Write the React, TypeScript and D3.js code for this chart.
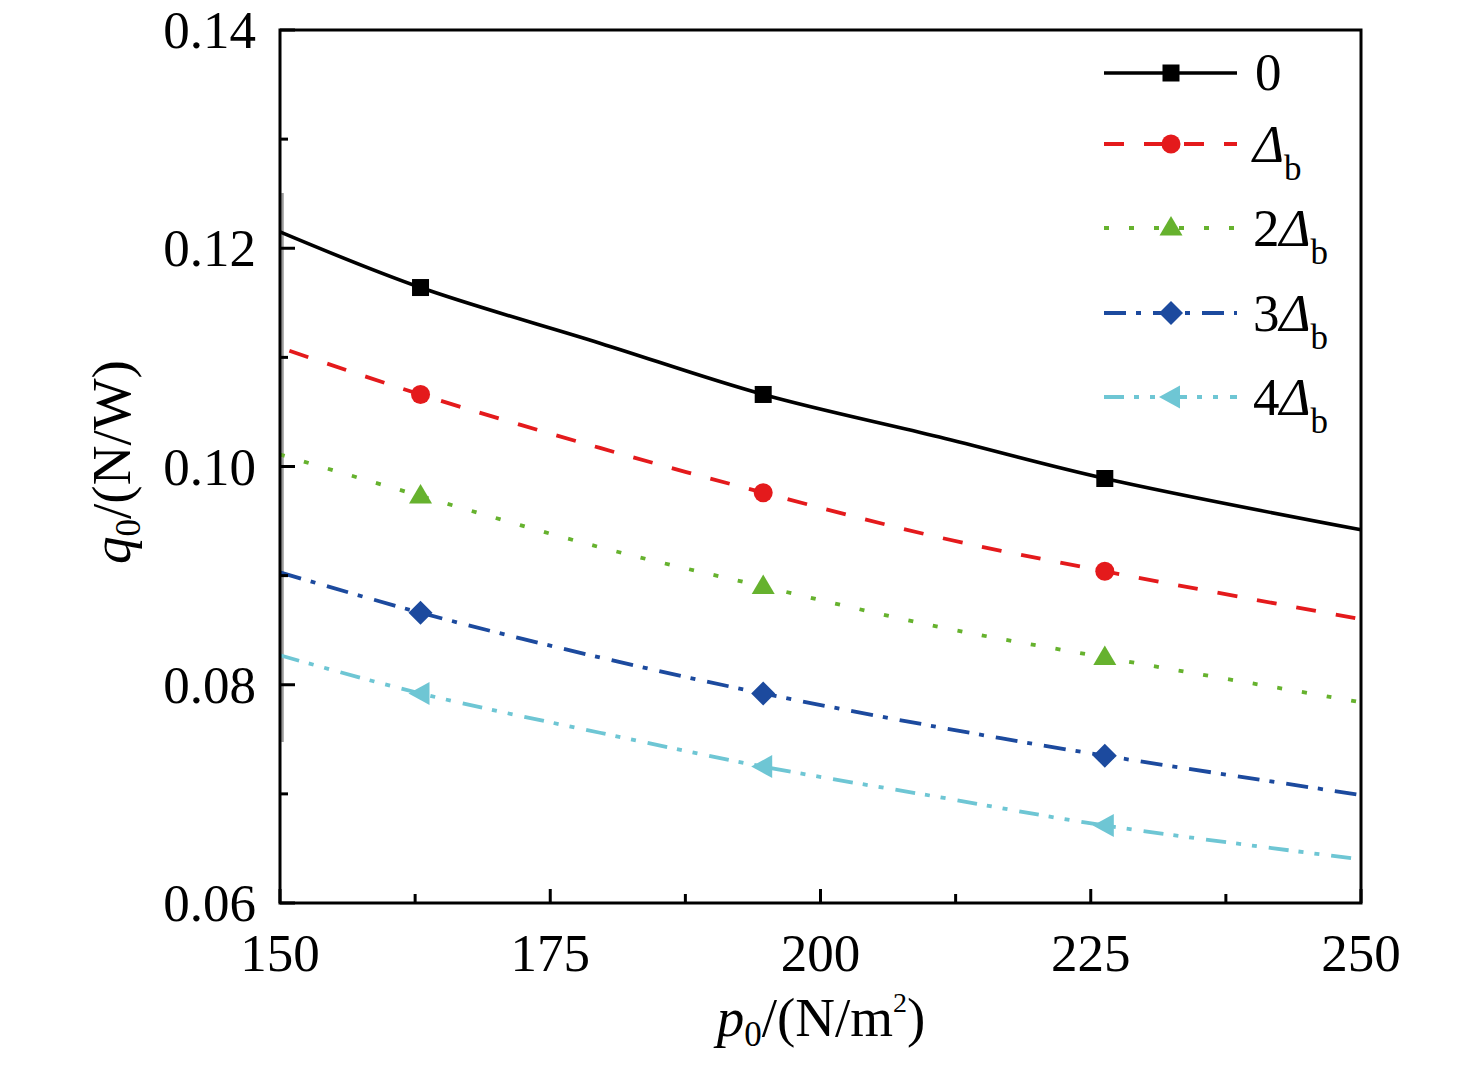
import React from "react";
import * as d3 from "d3";

const pValues = [150, 163, 179.6, 194.7, 211, 226.3, 250];
const series0 = [0.1215, 0.1164, 0.1113, 0.1066, 0.1027, 0.0989, 0.0942];
const series1 = [0.1109, 0.1066, 0.1017, 0.0976, 0.0935, 0.0904, 0.086];
const series2 = [0.1011, 0.0973, 0.0926, 0.089, 0.0853, 0.0825, 0.0784];
const series3 = [0.0903, 0.0866, 0.0825, 0.0792, 0.0761, 0.0735, 0.0699];
const series4 = [0.0827, 0.0792, 0.0756, 0.0725, 0.0697, 0.0671, 0.064];
const markerIdx = [1, 3, 5];
const xTicks = [150, 175, 200, 225, 250];
const xMinor = [162.5, 187.5, 212.5, 237.5];
const yTicks = [0.06, 0.08, 0.1, 0.12, 0.14];
const yMinor = [0.07, 0.09, 0.11, 0.13];
const legendLabels = ["0", "1", "2", "3", "4"];

type S = {
  vals: number[];
  color: string;
  dash: string;
  marker: "square" | "circle" | "triangle" | "diamond" | "left";
  legendY: number;
  label: string;
  width: number;
};

const SERIES: S[] = [
  { vals: series0, color: "#000000", dash: "none", marker: "square", legendY: 73, label: legendLabels[0], width: 3.6 },
  { vals: series1, color: "#e41a1c", dash: "20,20", marker: "circle", legendY: 144, label: legendLabels[1], width: 3.8 },
  { vals: series2, color: "#66b22e", dash: "5,20", marker: "triangle", legendY: 228, label: legendLabels[2], width: 3.8 },
  { vals: series3, color: "#1c4a9e", dash: "22,10,5,12", marker: "diamond", legendY: 313, label: legendLabels[3], width: 3.8 },
  { vals: series4, color: "#6ec6d4", dash: "20,10,5,11,5,12", marker: "left", legendY: 397, label: legendLabels[4], width: 3.8 },
];

const W = 1476;
const H = 1065;
const L = 280, R = 1361, T = 30, B = 903;
const FONT = "'Liberation Serif', 'Times New Roman', serif";

function Marker({ type, x, y, color }: { type: S["marker"]; x: number; y: number; color: string }) {
  if (type === "square") return <rect x={x - 8.5} y={y - 8.5} width={17} height={17} fill={color} />;
  if (type === "circle") return <circle cx={x} cy={y} r={9.5} fill={color} />;
  if (type === "triangle")
    return <polygon points={`${x},${y - 12} ${x + 11.5},${y + 7.5} ${x - 11.5},${y + 7.5}`} fill={color} />;
  if (type === "diamond")
    return <polygon points={`${x},${y - 12} ${x + 12},${y} ${x},${y + 12} ${x - 12},${y}`} fill={color} />;
  return <polygon points={`${x - 12},${y} ${x + 9},${y - 11.5} ${x + 9},${y + 11.5}`} fill={color} />;
}

export default function App() {
  const x = d3.scaleLinear().domain([150, 250]).range([L, R]);
  const y = d3.scaleLinear().domain([0.06, 0.14]).range([B, T]);
  const line = d3
    .line<number>()
    .x((_, i) => x(pValues[i]))
    .y((v) => y(v))
    .curve(d3.curveCatmullRom.alpha(0.5));

  return (
    <div style={{ position: "absolute", left: 0, top: 0 }}>
      <svg width={W} height={H} style={{ display: "block", background: "#fff" }} fontFamily={FONT}>
        <rect width={W} height={H} fill="#fff" />
        {/* artifact grey strip */}
        <line x1={L + 2.5} x2={L + 2.5} y1={193} y2={742} stroke="#9a9a9a" strokeWidth={2.5} />
        {/* series */}
        {SERIES.map((s, si) => (
          <g key={si}>
            <path
              d={line(s.vals) || ""}
              fill="none"
              stroke={s.color}
              strokeWidth={s.width}
              strokeDasharray={s.dash}
              strokeDashoffset={si === 1 ? -10 : 0}
            />
            {markerIdx.map((i) => (
              <Marker key={i} type={s.marker} x={x(pValues[i])} y={y(s.vals[i])} color={s.color} />
            ))}
          </g>
        ))}
        {/* frame */}
        <rect x={L} y={T} width={R - L} height={B - T} fill="none" stroke="#000" strokeWidth={3} />
        {/* y ticks */}
        {yTicks.map((t) => (
          <g key={"y" + t}>
            <line x1={L} x2={L + 15} y1={y(t)} y2={y(t)} stroke="#000" strokeWidth={3} />
            <text x={256} y={y(t) + 18} fontSize={53} textAnchor="end" fill="#000">
              {t.toFixed(2)}
            </text>
          </g>
        ))}
        {yMinor.map((t) => (
          <line key={"ym" + t} x1={L} x2={L + 8} y1={y(t)} y2={y(t)} stroke="#000" strokeWidth={3} />
        ))}
        {/* x ticks */}
        {xTicks.map((t) => (
          <g key={"x" + t}>
            <line x1={x(t)} x2={x(t)} y1={B} y2={B - 14} stroke="#000" strokeWidth={3} />
            <text x={x(t)} y={971} fontSize={53} textAnchor="middle" fill="#000">
              {t}
            </text>
          </g>
        ))}
        {xMinor.map((t) => (
          <line key={"xm" + t} x1={x(t)} x2={x(t)} y1={B} y2={B - 9} stroke="#000" strokeWidth={3} />
        ))}
        {/* axis labels */}
        <text x={821} y={1036} fontSize={55} textAnchor="middle" fill="#000">
          <tspan fontStyle="italic">p</tspan>
          <tspan fontSize={35} dy={10}>0</tspan>
          <tspan dy={-10}>/(N/m</tspan>
          <tspan fontSize={28} dy={-24}>2</tspan>
          <tspan dy={24}>)</tspan>
        </text>
        <text transform="translate(130,462) rotate(-90)" fontSize={55} textAnchor="middle" fill="#000">
          <tspan fontStyle="italic">q</tspan>
          <tspan fontSize={35} dy={10}>0</tspan>
          <tspan dy={-10}>/(N/W)</tspan>
        </text>
        {/* legend */}
        {SERIES.map((s, si) => (
          <g key={"lg" + si}>
            <line
              x1={1104}
              x2={1237}
              y1={s.legendY}
              y2={s.legendY}
              stroke={s.color}
              strokeWidth={s.width}
              strokeDasharray={s.dash}
            />
            <Marker type={s.marker} x={1171} y={s.legendY} color={s.color} />
            {s.label === "0" ? (
              <text x={1255} y={s.legendY + 17} fontSize={53} fill="#000">
                0
              </text>
            ) : (
              <text x={1253} y={s.legendY + 18} fontSize={53} fill="#000">
                {s.label !== "1" && <tspan>{s.label}</tspan>}
                <tspan fontStyle="italic">Δ</tspan>
                <tspan fontSize={35} dy={18}>b</tspan>
              </text>
            )}
          </g>
        ))}
      </svg>
    </div>
  );
}
